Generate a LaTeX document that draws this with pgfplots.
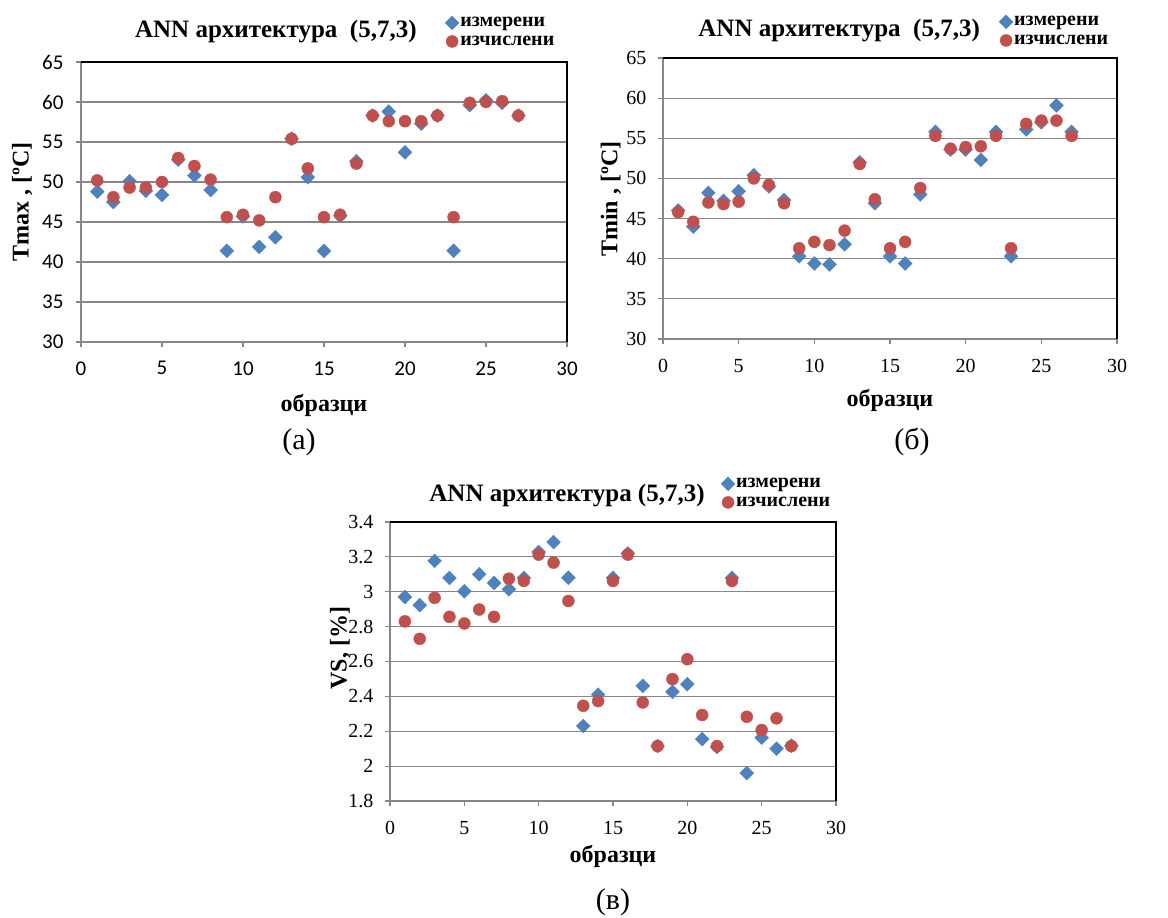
\documentclass[border=0pt]{standalone}
\usepackage{fontspec}
\setmainfont{Liberation Serif}
\newfontfamily\calibri{Carlito}
\usepackage{pgfplots}
\pgfplotsset{compat=1.18}
\definecolor{mblue}{HTML}{4F81BD}
\definecolor{mred}{HTML}{C0504D}
\definecolor{gridgray}{HTML}{878787}

\pgfplotstableread{
x meas calc
1 48.8 50.2
2 47.5 48.1
3 50.1 49.3
4 48.9 49.3
5 48.4 50.0
6 52.8 53.0
7 50.8 52.0
8 49.0 50.3
9 41.4 45.6
10 45.7 45.9
11 41.9 45.2
12 43.1 48.1
13 55.4 55.4
14 50.6 51.7
15 41.4 45.6
16 45.8 45.9
17 52.6 52.3
18 58.3 58.3
19 58.8 57.6
20 53.7 57.6
21 57.3 57.6
22 58.3 58.3
23 41.4 45.6
24 59.6 59.9
25 60.2 60.0
26 59.9 60.1
27 58.3 58.3
}\tmax

\pgfplotstableread{
x meas calc
1 46.0 45.8
2 44.0 44.6
3 48.2 47.0
4 47.2 46.8
5 48.4 47.1
6 50.4 50.0
7 49.0 49.2
8 47.3 46.9
9 40.3 41.3
10 39.4 42.1
11 39.3 41.7
12 41.8 43.5
13 52.0 51.8
14 46.9 47.4
15 40.3 41.3
16 39.4 42.1
17 48.0 48.8
18 55.8 55.3
19 53.6 53.7
20 53.6 53.9
21 52.3 54.0
22 55.8 55.3
23 40.3 41.3
24 56.1 56.8
25 57.0 57.2
26 59.1 57.2
27 55.8 55.3
}\tmin

\pgfplotstableread{
x meas calc
1 2.970 2.830
2 2.923 2.730
3 3.177 2.965
4 3.079 2.856
5 3.003 2.818
6 3.100 2.898
7 3.050 2.856
8 3.014 3.075
9 3.079 3.062
10 3.228 3.213
11 3.285 3.167
12 3.080 2.947
13 2.230 2.346
14 2.410 2.373
15 3.080 3.062
16 3.220 3.213
17 2.460 2.365
18 2.115 2.115
19 2.426 2.499
20 2.470 2.613
21 2.155 2.293
22 2.110 2.115
23 3.080 3.062
24 1.960 2.283
25 2.163 2.207
26 2.100 2.274
27 2.117 2.115
}\vs

\pgfplotsset{
  myax/.style={
    scale only axis,
    anchor=south west,
    xmin=0, xmax=30,
    xtick={0,5,...,30},
    axis x line*=bottom,
    axis y line*=left,
    axis line style={draw=gridgray, line width=1.3pt, -},
    tick style={draw=gridgray, line width=1.1pt},
    tick align=outside,
    major tick length=5pt,
    ymajorgrids,
    grid style={draw=gridgray, line width=1.2pt},
    clip=false,
    xticklabel shift=12pt,
    yticklabel shift=8pt,
    /pgf/number format/assume math mode=true,
    tick label style={font=\fontsize{20}{22}\selectfont},
    title style={font=\bfseries\fontsize{25}{28}\selectfont, anchor=center, yshift=0pt},
    xlabel style={font=\bfseries\fontsize{24}{27}\selectfont, anchor=center},
    ylabel style={font=\bfseries\fontsize{24}{27}\selectfont, anchor=center},
    legend style={draw=none, fill=none, inner sep=0pt, anchor=west,
      font=\bfseries\fontsize{20}{22}\selectfont, row sep=5pt,
      nodes={inner sep=1.2pt}},
    legend cell align=left,
    legend image code/.code={\draw[##1] plot coordinates {(5pt,0pt)};},
    after end axis/.code={\draw[black, line width=1.3pt] (rel axis cs:0,1) -- (rel axis cs:1,1) -- (rel axis cs:1,0);},
  },
  meas/.style={only marks, mark=square*, mark size=4.9pt, mark options={rotate=45, draw=mblue, fill=mblue}},
  calc/.style={only marks, mark=*, mark size=6pt, mark options={draw=mred, fill=mred}},
}

\begin{document}
\begin{tikzpicture}[x=1pt,y=1pt]
\useasboundingbox (0,0) rectangle (1168,918);

% (a)
\begin{axis}[myax,
  at={(81pt,576pt)}, width=486pt, height=280pt,
  ymin=30, ymax=65, ytick={30,35,...,65},
  tick label style={font=\calibri\fontsize{21}{23}\selectfont},
  xticklabel shift=11pt, yticklabel shift=9pt,
  title={ANN архитектура\ \ (5,7,3)},
  title style={at={(rel axis cs:0.401,1.086)}},
  xlabel={образци}, xlabel style={at={(rel axis cs:0.5,-0.225)}},
  ylabel={Tmax , [ºC]}, ylabel style={at={(rel axis cs:-0.121,0.5)}},
  legend style={at={(rel axis cs:0.749,1.107)}},
]
\addplot[meas] table[x=x,y=meas] {\tmax};
\addplot[calc] table[x=x,y=calc] {\tmax};
\legend{измерени, изчислени}
\end{axis}

% (b)
\begin{axis}[myax,
  at={(663pt,579pt)}, width=454pt, height=281pt,
  ymin=30, ymax=65, ytick={30,35,...,65},
  title={ANN архитектура\ \ (5,7,3)},
  title style={at={(rel axis cs:0.388,1.075)}},
  xlabel={образци}, xlabel style={at={(rel axis cs:0.5,-0.217)}},
  ylabel={Tmin , [ºC]}, ylabel style={at={(rel axis cs:-0.115,0.498)}},
  legend style={at={(rel axis cs:0.740,1.096)}},
]
\addplot[meas] table[x=x,y=meas] {\tmin};
\addplot[calc] table[x=x,y=calc] {\tmin};
\legend{измерени, изчислени}
\end{axis}

% (c)
\begin{axis}[myax,
  at={(390pt,117pt)}, width=446pt, height=279pt,
  ymin=1.8, ymax=3.4, ytick={1.8,2,2.2,2.4,2.6,2.8,3,3.2,3.4},
  yticklabel style={/pgf/number format/fixed, /pgf/number format/precision=1},
  title={ANN архитектура (5,7,3)},
  title style={at={(rel axis cs:0.397,1.072)}},
  xlabel={образци}, xlabel style={at={(rel axis cs:0.5,-0.2)}},
  ylabel={VS, [\%]}, ylabel style={at={(rel axis cs:-0.112,0.548)}},
  legend style={at={(rel axis cs:0.742,1.104)}},
]
\addplot[meas] table[x=x,y=meas] {\vs};
\addplot[calc] table[x=x,y=calc] {\vs};
\legend{измерени, изчислени}
\end{axis}

\node[font=\fontsize{30}{32}\selectfont] at (299,476) {(а)};
\node[font=\fontsize{30}{32}\selectfont] at (912,476) {(б)};
\node[font=\fontsize{30}{32}\selectfont] at (613,16) {(в)};
\end{tikzpicture}
\end{document}
